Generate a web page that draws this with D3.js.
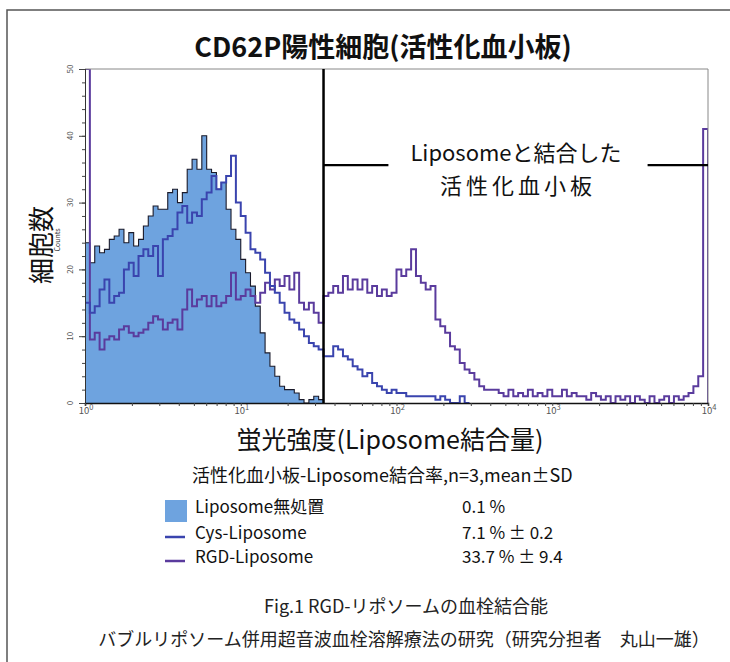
<!DOCTYPE html>
<html>
<head>
<meta charset="utf-8">
<script src="https://cdn.jsdelivr.net/npm/d3@7"></script>
<style>
  body { margin: 0; background: #fff; }
  text { font-family: "Noto Sans CJK JP", "Noto Sans", sans-serif; }
</style>
</head>
<body>
<svg id="chart" width="730" height="662"></svg>
<script>
// Flow-cytometry histogram channels: 32 bins per decade starting at 10^0
const binsPerDecade = 32;

// Liposome untreated (filled histogram)
const fillCounts = [24, 21, 23.5, 22.5, 23, 24.5, 25, 26, 24, 25.5, 23.5, 24.5, 26.5, 28, 29.5, 29,
  29, 31.5, 32, 30, 31.5, 35, 36.5, 35, 40, 35, 34.5, 32, 33, 29, 26, 24.5,
  21.5, 19.5, 17.5, 14.5, 10.5, 7.5, 5.5, 4, 2.5, 2, 2, 1.5, 0.5, 0, 0.5, 1, 0.5];

// Cys-Liposome
const cysCounts = [15, 13.5, 14.5, 17, 18.5, 15, 16, 16.5, 20, 21, 19, 22, 23, 22, 23.5, 19,
  24.5, 25, 26, 28.5, 29.5, 27, 28.5, 28, 30.5, 31.5, 34, 32, 33, 34, 37,
  30, 28, 25.5, 23, 22.5, 21.5, 19.5, 17.5, 16.5, 15, 13.5, 12.5, 12, 11, 10, 9, 8.5, 8,
  7, 7, 8.5, 8, 7, 6.5, 5.5, 5, 4, 4.5, 3, 2.5, 2, 1.5, 2, 1.5, 1.5, 1, 1, 1, 1, 1, 1,
  0.5, 1, 0.5, 0, 0, 1, 0];

// RGD-Liposome
const rgdCounts = [50, 9.5, 10.5, 8, 9.5, 10, 9.5, 11, 11.5, 10.5, 10, 10.5, 11, 12, 13, 12.5, 11, 12, 12.5, 11,
  14, 17, 14.5, 15.5, 16, 14.5, 16, 14.5, 15, 16, 19.5, 15.5, 16, 17, 16, 15, 16.5, 18, 17, 18.5,
  17.5, 19, 17, 19.5, 15, 14, 15, 13.5,
  12, 16, 16.5, 17.5, 16.5, 19, 17, 18.5, 17, 18.5, 16.5, 17.5, 16, 17, 16, 16.5, 20, 19, 20, 23,
  19, 18, 17, 17.5, 12.5, 11.5, 10.5, 8.5, 8, 6, 5, 4.5,
  3.5, 2.5, 2, 2, 2, 1.5, 1, 2, 1, 1.5, 1, 2, 1, 1.5, 1, 2, 1, 1, 2, 1,
  1.5, 1, 1, 0.5, 1.5, 1, 0.5, 1, 0, 1, 0.5, 1, 0, 1, 0.5, 0, 1, 0, 0.5, 1,
  0, 1, 0.5, 1, 1.5, 2.5, 4, 41];

const yTicks = [0, 10, 20, 30, 40, 50];
const xDecades = [0, 1, 2, 3, 4];
const gateValue = 34;        // marker start (fluorescence units)
const gateBarCount = 35.6;   // marker bar height (counts)

const legendLabels = ["Liposome無処置", "Cys-Liposome", "RGD-Liposome"];
const legendValues = ["0.1 %", "7.1 % ± 0.2", "33.7 % ± 9.4"];
const colors = { fill: "#6ea3df", cys: "#3a44ae", rgd: "#5a3b9d" };

const svg = d3.select("#chart");
const plot = { left: 85, right: 708, top: 69, bottom: 403 };

const x = d3.scaleLog().domain([1, 1e4]).range([plot.left, plot.right]);
const y = d3.scaleLinear().domain([0, 50]).range([plot.bottom, plot.top]);
const edge = i => Math.pow(10, i / binsPerDecade);

function stepPoints(vals) {
  const pts = [[edge(0), 0]];
  vals.forEach((v, i) => pts.push([edge(i), v]));
  pts.push([edge(vals.length), vals[vals.length - 1]]);
  pts.push([edge(vals.length), 0]);
  return pts;
}

// outer frame
svg.append("path")
  .attr("d", "M7,662V10H730")
  .attr("fill", "none").attr("stroke", "#555").attr("stroke-width", 1.5);

// title
svg.append("text")
  .attr("x", 383).attr("y", 57)
  .attr("text-anchor", "middle")
  .attr("font-size", 27).attr("font-weight", "bold").attr("fill", "#111")
  .text("CD62P陽性細胞(活性化血小板)");

// plot clip
svg.append("clipPath").attr("id", "plotClip")
  .append("rect")
  .attr("x", plot.left).attr("y", plot.top)
  .attr("width", plot.right - plot.left).attr("height", plot.bottom - plot.top);

const g = svg.append("g").attr("clip-path", "url(#plotClip)");

const area = d3.area()
  .x(d => x(d[0])).y0(y(0)).y1(d => y(d[1]))
  .curve(d3.curveStepAfter);
const line = d3.line()
  .x(d => x(d[0])).y(d => y(d[1]))
  .curve(d3.curveStepAfter);

g.append("path").datum(stepPoints(fillCounts))
  .attr("d", area).attr("fill", colors.fill);
g.append("path").datum(stepPoints(fillCounts))
  .attr("d", line).attr("fill", "none").attr("stroke", "#1a1a2a").attr("stroke-width", 1.1);
g.append("path").datum(stepPoints(rgdCounts))
  .attr("d", line).attr("fill", "none").attr("stroke", colors.rgd).attr("stroke-width", 2);
g.append("path").datum(stepPoints(cysCounts))
  .attr("d", line).attr("fill", "none").attr("stroke", colors.cys).attr("stroke-width", 2);

// plot frame (top and right)
svg.append("path")
  .attr("d", `M${plot.left},${plot.top}H${plot.right}V${plot.bottom}`)
  .attr("fill", "none").attr("stroke", "#888").attr("stroke-width", 1);

// y axis
const yAxisMinor = d3.axisLeft(y).tickValues(d3.range(0, 51, 2)).tickSize(3).tickFormat("");
const yAxisMajor = d3.axisLeft(y).tickValues(yTicks).tickSize(6).tickFormat("");
[yAxisMinor, yAxisMajor].forEach(ax => {
  const a = svg.append("g").attr("transform", `translate(${plot.left},0)`).call(ax);
  a.select(".domain").attr("stroke", "#333");
  a.selectAll(".tick line").attr("stroke", "#444");
});
svg.append("g").selectAll("text").data(yTicks).join("text")
  .attr("transform", d => `translate(69,${y(d)}) rotate(-90)`)
  .attr("text-anchor", "middle").attr("dominant-baseline", "central")
  .attr("font-family", "Liberation Sans Narrow, Liberation Sans, sans-serif")
  .attr("font-size", 8).attr("fill", "#555")
  .text(d => d);

// x axis
const xAxisMinor = d3.axisBottom(x).tickValues(x.ticks()).tickSize(3).tickFormat("");
const xa = svg.append("g").attr("transform", `translate(0,${plot.bottom})`).call(xAxisMinor);
xa.select(".domain").attr("stroke", "#111").attr("stroke-width", 1.5);
xa.selectAll(".tick line").attr("stroke", "#444");
const xl = svg.append("g").selectAll("text").data(xDecades).join("text")
  .attr("x", d => x(Math.pow(10, d)) + 1).attr("y", 414)
  .attr("text-anchor", "middle")
  .attr("font-family", "Liberation Sans, sans-serif")
  .attr("font-size", 9.5).attr("fill", "#555");
xl.append("tspan").text("10");
xl.append("tspan").attr("dy", -4).attr("font-size", 7.5).text(d => d);

// gate marker
const gx = x(gateValue);
svg.append("line")
  .attr("x1", gx).attr("x2", gx).attr("y1", plot.top).attr("y2", plot.bottom)
  .attr("stroke", "#000").attr("stroke-width", 2.5);

const gateLabel = svg.append("g");
gateLabel.append("text")
  .attr("x", 516).attr("y", 161).attr("text-anchor", "middle")
  .attr("font-size", 22).attr("fill", "#111")
  .text("Liposomeと結合した");
gateLabel.append("text")
  .attr("x", 518).attr("y", 194).attr("text-anchor", "middle")
  .attr("font-size", 22).attr("letter-spacing", 4).attr("fill", "#111")
  .text("活性化血小板");
const lb = gateLabel.node().getBBox();
const gy = y(gateBarCount);
svg.append("line")
  .attr("x1", gx).attr("x2", lb.x - 22).attr("y1", gy).attr("y2", gy)
  .attr("stroke", "#000").attr("stroke-width", 2.2);
svg.append("line")
  .attr("x1", lb.x + lb.width + 26).attr("x2", plot.right).attr("y1", gy).attr("y2", gy)
  .attr("stroke", "#000").attr("stroke-width", 2.2);

// axis titles
svg.append("text")
  .attr("transform", "translate(39,245) rotate(-90)")
  .attr("text-anchor", "middle").attr("dominant-baseline", "central")
  .attr("font-size", 26).attr("fill", "#111")
  .text("細胞数");
svg.append("text")
  .attr("transform", "translate(57,240) rotate(-90)")
  .attr("text-anchor", "middle").attr("dominant-baseline", "central")
  .attr("font-family", "Liberation Sans Narrow, Liberation Sans, sans-serif")
  .attr("font-size", 7).attr("fill", "#333")
  .text("Counts");
svg.append("text")
  .attr("x", 390).attr("y", 449).attr("text-anchor", "middle")
  .attr("font-size", 25).attr("fill", "#111")
  .text("蛍光強度(Liposome結合量)");

// legend
svg.append("text")
  .attr("x", 192).attr("y", 482)
  .attr("font-size", 18).attr("fill", "#111")
  .text("活性化血小板-Liposome結合率,n=3,mean±SD");

const legendY = [513, 539, 563];
const lg = svg.append("g");
lg.append("rect")
  .attr("x", 165).attr("y", 500).attr("width", 22).attr("height", 22)
  .attr("fill", colors.fill);
[colors.cys, colors.rgd].forEach((c, i) => {
  lg.append("line")
    .attr("x1", 165).attr("x2", 185)
    .attr("y1", legendY[i + 1] - 2).attr("y2", legendY[i + 1] - 2)
    .attr("stroke", c).attr("stroke-width", 2.5);
});
lg.selectAll("text.lab").data(legendLabels).join("text").attr("class", "lab")
  .attr("x", 195).attr("y", (d, i) => legendY[i])
  .attr("font-size", 17).attr("fill", "#111")
  .text(d => d);
lg.selectAll("text.val").data(legendValues).join("text").attr("class", "val")
  .attr("x", 462).attr("y", (d, i) => legendY[i])
  .attr("font-size", 17).attr("fill", "#111")
  .text(d => d);

// captions
svg.append("text")
  .attr("x", 406).attr("y", 613).attr("text-anchor", "middle")
  .attr("font-size", 18).attr("fill", "#222")
  .text("Fig.1 RGD-リポソームの血栓結合能");
svg.append("text")
  .attr("x", 404).attr("y", 646).attr("text-anchor", "middle")
  .attr("font-size", 18).attr("fill", "#222")
  .text("バブルリポソーム併用超音波血栓溶解療法の研究（研究分担者　丸山一雄）");
</script>
</body>
</html>
